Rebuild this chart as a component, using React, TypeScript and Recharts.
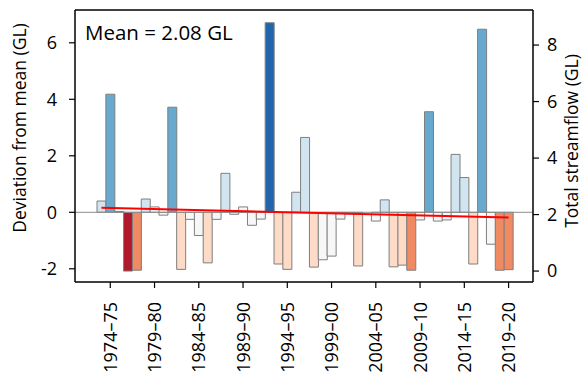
import React from 'react';
import { ComposedChart, Bar, Line, XAxis, YAxis, Cell, ReferenceLine } from 'recharts';

// water years shown as bars
const years = [
    '1973–74', '1974–75', '1975–76', '1976–77', '1977–78', '1978–79', '1979–80', '1980–81',
    '1981–82', '1982–83', '1983–84', '1984–85', '1985–86', '1986–87', '1987–88', '1988–89',
    '1989–90', '1990–91', '1991–92', '1992–93', '1993–94', '1994–95', '1995–96', '1996–97',
    '1997–98', '1998–99', '1999–00', '2000–01', '2001–02', '2002–03', '2003–04', '2004–05',
    '2005–06', '2006–07', '2007–08', '2008–09', '2009–10', '2010–11', '2011–12', '2012–13',
    '2013–14', '2014–15', '2015–16', '2016–17', '2017–18', '2018–19', '2019–20',
];

// deviation from the mean total streamflow (GL)
const deviation = [
    0.40, 4.18, 0.03, -2.08, -2.05, 0.47, 0.19, -0.10, 3.72, -2.02,
    -0.25, -0.82, -1.79, -0.25, 1.38, -0.07, 0.19, -0.46, -0.24, 6.71,
    -1.83, -2.02, 0.71, 2.65, -1.94, -1.68, -1.55, -0.24, -0.05, -1.90,
    0.00, -0.31, 0.44, -1.93, -1.87, -2.05, -0.27, 3.56, -0.31, -0.27,
    2.05, 1.23, -1.83, 6.48, -1.13, -2.05, -2.03,
];

// linear trend end points (first and last year)
const trendStart = 0.16;
const trendEnd = -0.18;

const MEAN = 2.08;
const xTicks = ['1974–75', '1979–80', '1984–85', '1989–90', '1994–95', '1999–00', '2004–05', '2009–10', '2014–15', '2019–20'];
const leftTicks = [-2, 0, 2, 4, 6];
const rightTicks = [0, 2, 4, 6, 8];

const LEFT_DOMAIN: [number, number] = [-2.467, 7.161];
const RIGHT_DOMAIN: [number, number] = [LEFT_DOMAIN[0] + MEAN, LEFT_DOMAIN[1] + MEAN];

const FONT = '"Open Sans", "Noto Sans", sans-serif';

const data = years.map((year, i) => ({
    year,
    dev: deviation[i],
    trend: i === 0 ? trendStart : i === years.length - 1 ? trendEnd : null,
}));

const colorFor = (v: number) => {
    if (v <= -2.07) return '#b2182b';
    if (v <= -2.03) return '#ef8a62';
    if (v <= -1.75) return '#fddbc7';
    if (v < 0.3) return '#f7f7f7';
    if (v < 3) return '#d1e5f0';
    if (v < 6.6) return '#67a9cf';
    return '#2166ac';
};

const XTick = (props: any) => {
    const { x, y, payload } = props;
    return (
        <text
            transform={`translate(${x},${y}) rotate(-90)`}
            textAnchor="end"
            dy="0.36em"
            fontSize={18}
            fontFamily={FONT}
            fill="#000"
        >
            {payload.value}
        </text>
    );
};

const App: React.FC = () => {
    const tickStyle = { fontSize: 18, fontFamily: FONT, fill: '#000' };
    return (
        <div style={{ position: 'absolute', left: 0, top: 0, width: 585, height: 376, background: '#fff' }}>
            <ComposedChart
                width={585}
                height={376}
                data={data}
                margin={{ top: 10, right: 0, bottom: 0, left: 0 }}
                barCategoryGap={0}
            >
                <XAxis
                    dataKey="year"
                    ticks={xTicks}
                    interval={0}
                    height={94}
                    padding={{ left: 22, right: 20 }}
                    tick={<XTick />}
                    tickSize={6}
                    tickMargin={14}
                    axisLine={{ stroke: '#000', strokeWidth: 1.5 }}
                    tickLine={{ stroke: '#000', strokeWidth: 1.2 }}
                />
                <YAxis
                    yAxisId="left"
                    width={75}
                    domain={LEFT_DOMAIN}
                    ticks={leftTicks}
                    allowDataOverflow
                    tick={tickStyle}
                    tickSize={6}
                    tickMargin={12}
                    axisLine={{ stroke: '#000', strokeWidth: 1.5 }}
                    tickLine={{ stroke: '#000', strokeWidth: 1.2 }}
                />
                <YAxis
                    yAxisId="right"
                    orientation="right"
                    width={52}
                    domain={RIGHT_DOMAIN}
                    ticks={rightTicks}
                    allowDataOverflow
                    tick={tickStyle}
                    tickSize={6}
                    tickMargin={8}
                    axisLine={{ stroke: '#000', strokeWidth: 1.5 }}
                    tickLine={{ stroke: '#000', strokeWidth: 1.2 }}
                />
                <ReferenceLine yAxisId="left" y={0} stroke="#8c8c8c" strokeWidth={1} />
                <ReferenceLine yAxisId="left" y={LEFT_DOMAIN[1]} stroke="#000" strokeWidth={1.5} />
                <Bar yAxisId="left" dataKey="dev" stroke="#7f7f7f" strokeWidth={1} isAnimationActive={false}>
                    {data.map((d, i) => (
                        <Cell key={`cell-${i}`} fill={colorFor(d.dev)} />
                    ))}
                </Bar>
                <Line
                    yAxisId="left"
                    dataKey="trend"
                    connectNulls
                    stroke="#ff0000"
                    strokeWidth={2}
                    dot={false}
                    isAnimationActive={false}
                />
            </ComposedChart>
            <svg width={585} height={376} style={{ position: 'absolute', left: 0, top: 0, pointerEvents: 'none' }}>
                <text x={85} y={40} fontSize={20.5} fontFamily={FONT} fill="#000">Mean = 2.08 GL</text>
                <text
                    transform="translate(20,128) rotate(-90)"
                    textAnchor="middle"
                    dy="0.36em"
                    fontSize={17.5}
                    fontFamily={FONT}
                    fill="#000"
                >
                    Deviation from mean (GL)
                </text>
                <text
                    transform="translate(572,141) rotate(-90)"
                    textAnchor="middle"
                    dy="0.36em"
                    fontSize={17.5}
                    fontFamily={FONT}
                    fill="#000"
                >
                    Total streamflow (GL)
                </text>
            </svg>
        </div>
    );
};

export default App;
